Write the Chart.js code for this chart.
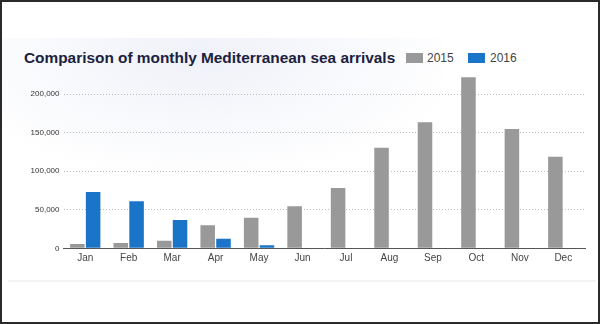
<!DOCTYPE html>
<html>
<head>
<meta charset="utf-8">
<script src="https://cdn.jsdelivr.net/npm/chart.js@4"></script>
<style>
  html, body { margin: 0; padding: 0; background: #ffffff; }
  #frame { position: absolute; left: 0; top: 0; width: 600px; height: 324px; box-sizing: border-box; border: 2px solid #2a2a2a; overflow: hidden; font-family: "Liberation Sans", Arial, sans-serif; }
  #glow { position: absolute; left: 0; top: 36px; width: 440px; height: 130px;
          background: radial-gradient(ellipse at 45% 15%, rgba(236,239,247,0.85) 0%, rgba(242,244,250,0.5) 45%, rgba(255,255,255,0) 78%); }
  #sep { position: absolute; left: 6px; top: 278px; width: 588px; height: 2px; background: #f3f3f3; }
  #title { position: absolute; left: 22px; top: 48.3px; font-weight: bold; font-size: 15.4px; line-height: 15.4px; color: #1b2140; white-space: nowrap; }
  .lg { position: absolute; top: 49.8px; font-size: 12px; line-height: 12px; color: #444; white-space: nowrap; }
  .sw { position: absolute; top: 50.7px; width: 17px; height: 10.6px; }
  canvas { position: absolute; left: -2px; top: -2px; }
</style>
</head>
<body>
<div id="frame">
  <div id="glow"></div>
  <div id="sep"></div>
  <div id="title">Comparison of monthly Mediterranean sea arrivals</div>
  <div class="sw" style="left:404px;background:#999999"></div>
  <div class="lg" style="left:425px">2015</div>
  <div class="sw" style="left:466px;background:#1a75c8"></div>
  <div class="lg" style="left:488px">2016</div>
  <canvas id="c" width="600" height="324"></canvas>
</div>
<script>
const categories = ["Jan","Feb","Mar","Apr","May","Jun","Jul","Aug","Sep","Oct","Nov","Dec"];
const arrivals2015 = [5600, 6900, 9900, 29900, 39700, 54500, 78300, 130700, 163600, 222000, 155000, 119000];
const arrivals2016 = [73100, 61000, 36800, 12500, 3900, null, null, null, null, null, null, null];
const seriesNames = ["2015", "2016"];
const yTickValues = [0, 50000, 100000, 150000, 200000];

new Chart(document.getElementById('c'), {
  type: 'bar',
  data: {
    labels: categories,
    datasets: [
      { label: seriesNames[0], data: arrivals2015, backgroundColor: '#999999', categoryPercentage: 0.727, barPercentage: 0.92 },
      { label: seriesNames[1], data: arrivals2016, backgroundColor: '#1a75c8', categoryPercentage: 0.727, barPercentage: 0.92 }
    ]
  },
  options: {
    responsive: false,
    animation: false,
    layout: { padding: { top: 75, right: 15, bottom: 45.7, left: 0 } },
    plugins: { legend: { display: false }, title: { display: false }, tooltip: { enabled: false } },
    scales: {
      x: {
        grid: { display: false, drawTicks: false },
        border: { display: true, color: '#555555', width: 1 },
        ticks: { color: '#444444', padding: 4, font: { family: '"Liberation Sans", Arial, sans-serif', size: 10 } },
        afterFit: s => { s.height = 30; }
      },
      y: {
        min: 0, max: 225000,
        afterBuildTicks: axis => { axis.ticks = yTickValues.map(v => ({ value: v })); },
        grid: { drawTicks: false, color: ctx => ctx.tick && ctx.tick.value === 0 ? 'rgba(0,0,0,0)' : '#bdbdbd', lineWidth: 1 },
        border: { display: false, dash: [1, 2] },
        ticks: {
          color: '#333333', padding: 4,
          font: { family: '"Liberation Sans", Arial, sans-serif', size: 8 },
          callback: v => v.toLocaleString('en-US')
        },
        afterFit: s => { s.width = 63.5; }
      }
    }
  }
});
</script>
</body>
</html>
